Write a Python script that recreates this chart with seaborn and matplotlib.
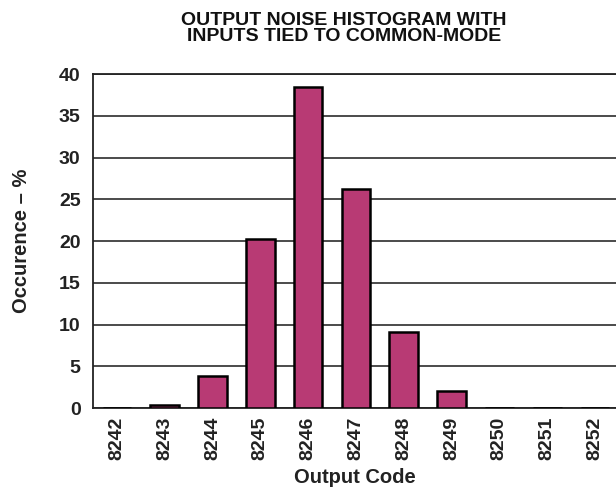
import numpy as np
import pandas as pd
import matplotlib
matplotlib.use("Agg")
import matplotlib.pyplot as plt
import seaborn as sns

# data
codes = ["8242", "8243", "8244", "8245", "8246", "8247", "8248", "8249", "8250", "8251", "8252"]
occurence = [0.0, 0.4, 3.9, 20.3, 38.5, 26.2, 9.1, 2.1, 0.0, 0.0, 0.0]
y_ticks = [0, 5, 10, 15, 20, 25, 30, 35, 40]

df = pd.DataFrame({"code": codes, "occ": occurence})

sns.set_style("white")
plt.rcParams["font.family"] = ["Liberation Sans", "DejaVu Sans"]
plt.rcParams["font.weight"] = "bold"

fig = plt.figure(figsize=(6.16, 4.87), dpi=100)
ax = fig.add_axes([0.151, 0.162, 0.849, 0.686])

sns.barplot(data=df, x="code", y="occ", order=codes, color="#b83a74",
            saturation=1, width=0.6, edgecolor="black", linewidth=1.8, ax=ax, zorder=3)

ax.set_ylim(0, 40)
ax.set_xlim(-0.5, 10.44)
ax.set_yticks(y_ticks)
ax.yaxis.grid(True, color="#1a1a1a", linewidth=1.1, zorder=0)
ax.set_axisbelow(True)

for s in ["top", "left", "bottom"]:
    ax.spines[s].set_visible(True)
    ax.spines[s].set_color("#222222")
    ax.spines[s].set_linewidth(1.3)
ax.spines["right"].set_visible(False)

ax.set_xticks(range(len(codes)))
ax.set_xticklabels(codes, rotation=90, fontsize=14, fontweight="bold", color="#222222")
ax.set_xticks(np.arange(len(codes) - 1) + 0.5, minor=True)
ax.tick_params(axis="x", which="major", length=0, pad=6)
ax.tick_params(axis="x", which="minor", length=5, width=1, color="#555555", direction="inout")
ax.tick_params(axis="y", length=0, pad=9)
for t in ax.get_yticklabels():
    t.set_fontsize(14)
    t.set_fontweight("bold")
    t.set_color("#222222")

ax.set_xlabel("Output Code", fontsize=14.5, fontweight="bold", color="#222222", labelpad=6)
ax.set_ylabel("Occurence – %", fontsize=14.5, fontweight="bold", color="#222222", labelpad=20)

fig.text(0.558, 0.976, "OUTPUT NOISE HISTOGRAM WITH\nINPUTS TIED TO COMMON-MODE",
         ha="center", va="top", fontsize=14, fontweight="bold", color="#111111",
         linespacing=0.98)

fig.savefig("out.png", dpi=100)
